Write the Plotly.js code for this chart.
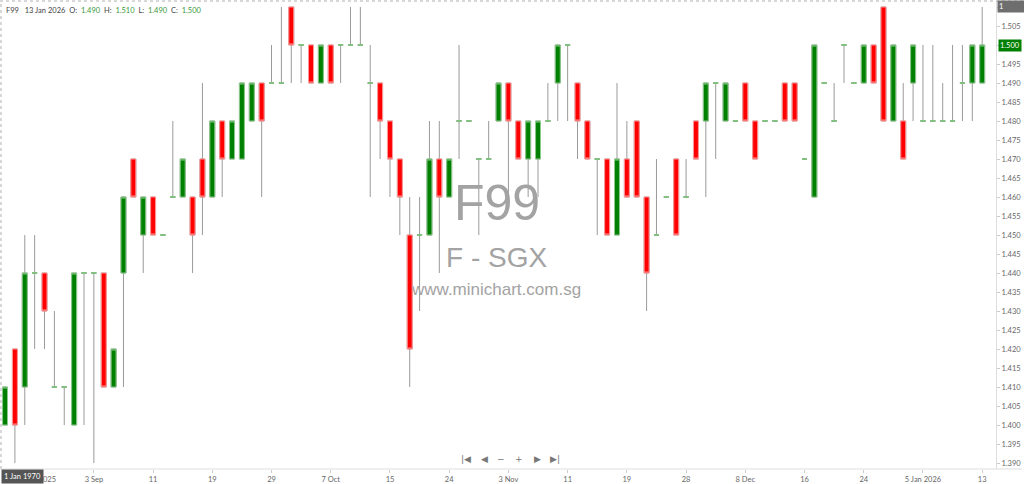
<!DOCTYPE html>
<html>
<head>
<meta charset="utf-8">
<script src="https://cdn.plot.ly/plotly-3.0.1.min.js"></script>
<style>
  html, body { margin: 0; padding: 0; background: #ffffff; }
  #chart { width: 1024px; height: 484px; }
</style>
</head>
<body>
<div id="chart"></div>
<script>
// ---- Data (F99, daily candles) ----
const dates = [
  '2025-08-21','2025-08-22','2025-08-25','2025-08-26','2025-08-27','2025-08-28','2025-08-29','2025-09-01','2025-09-02','2025-09-03',
  '2025-09-04','2025-09-05','2025-09-08','2025-09-09','2025-09-10','2025-09-11','2025-09-12','2025-09-15','2025-09-16','2025-09-17',
  '2025-09-18','2025-09-19','2025-09-22','2025-09-23','2025-09-24','2025-09-25','2025-09-26','2025-09-29','2025-09-30','2025-10-01',
  '2025-10-02','2025-10-03','2025-10-06','2025-10-07','2025-10-08','2025-10-09','2025-10-10','2025-10-13','2025-10-14','2025-10-15',
  '2025-10-16','2025-10-17','2025-10-21','2025-10-22','2025-10-23','2025-10-24','2025-10-27','2025-10-28','2025-10-29','2025-10-30',
  '2025-10-31','2025-11-03','2025-11-04','2025-11-05','2025-11-06','2025-11-07','2025-11-10','2025-11-11','2025-11-12','2025-11-13',
  '2025-11-14','2025-11-17','2025-11-18','2025-11-19','2025-11-20','2025-11-21','2025-11-24','2025-11-25','2025-11-26','2025-11-28',
  '2025-12-01','2025-12-02','2025-12-03','2025-12-04','2025-12-05','2025-12-08','2025-12-09','2025-12-10','2025-12-11','2025-12-12',
  '2025-12-15','2025-12-16','2025-12-17','2025-12-18','2025-12-19','2025-12-22','2025-12-23','2025-12-24','2025-12-26','2025-12-29',
  '2025-12-30','2025-12-31','2026-01-02','2026-01-05','2026-01-06','2026-01-07','2026-01-08','2026-01-09','2026-01-12','2026-01-13'
];
const open = [
  1.40,1.42,1.41,1.44,1.44,1.41,1.41,1.40,1.44,1.44,
  1.44,1.41,1.44,1.47,1.45,1.46,1.45,1.46,1.46,1.46,
  1.47,1.46,1.48,1.47,1.47,1.48,1.49,1.49,1.49,1.51,
  1.50,1.50,1.49,1.50,1.50,1.50,1.50,1.49,1.49,1.48,
  1.47,1.45,1.45,1.45,1.47,1.46,1.48,1.48,1.47,1.47,
  1.48,1.49,1.48,1.47,1.47,1.48,1.49,1.50,1.49,1.48,
  1.47,1.47,1.45,1.47,1.48,1.46,1.45,1.46,1.47,1.46,
  1.48,1.48,1.49,1.48,1.48,1.49,1.48,1.48,1.48,1.49,
  1.49,1.47,1.46,1.49,1.48,1.50,1.49,1.49,1.50,1.51,
  1.48,1.48,1.49,1.48,1.48,1.48,1.48,1.49,1.49,1.49
];
const high = [
  1.41,1.42,1.45,1.45,1.44,1.43,1.41,1.44,1.44,1.44,
  1.44,1.42,1.46,1.47,1.46,1.46,1.45,1.48,1.47,1.46,
  1.49,1.48,1.48,1.48,1.49,1.49,1.49,1.50,1.51,1.51,
  1.50,1.50,1.50,1.50,1.50,1.51,1.51,1.50,1.49,1.48,
  1.47,1.46,1.46,1.48,1.48,1.47,1.50,1.48,1.47,1.48,
  1.49,1.49,1.48,1.48,1.48,1.49,1.50,1.50,1.49,1.48,
  1.47,1.47,1.49,1.48,1.48,1.46,1.47,1.46,1.47,1.47,
  1.48,1.49,1.49,1.49,1.48,1.49,1.48,1.48,1.48,1.49,
  1.49,1.47,1.50,1.49,1.49,1.50,1.49,1.50,1.50,1.51,
  1.50,1.49,1.50,1.50,1.50,1.49,1.50,1.50,1.50,1.51
];
const low = [
  1.40,1.39,1.40,1.42,1.42,1.41,1.40,1.40,1.40,1.39,
  1.41,1.41,1.41,1.46,1.44,1.45,1.45,1.46,1.46,1.44,
  1.45,1.46,1.46,1.47,1.47,1.48,1.46,1.49,1.49,1.49,
  1.49,1.49,1.49,1.49,1.49,1.50,1.50,1.46,1.47,1.46,
  1.45,1.41,1.43,1.45,1.44,1.46,1.47,1.48,1.45,1.47,
  1.48,1.46,1.47,1.46,1.46,1.48,1.48,1.48,1.47,1.47,
  1.45,1.45,1.45,1.46,1.46,1.43,1.45,1.46,1.45,1.46,
  1.47,1.46,1.47,1.48,1.48,1.48,1.47,1.48,1.48,1.48,
  1.48,1.47,1.46,1.49,1.48,1.49,1.49,1.49,1.49,1.48,
  1.48,1.47,1.48,1.48,1.48,1.48,1.48,1.48,1.48,1.49
];
const close = [
  1.41,1.40,1.44,1.44,1.43,1.41,1.41,1.44,1.44,1.44,
  1.41,1.42,1.46,1.46,1.46,1.45,1.45,1.46,1.47,1.45,
  1.46,1.48,1.47,1.48,1.49,1.49,1.48,1.49,1.49,1.50,
  1.50,1.49,1.50,1.49,1.50,1.50,1.50,1.49,1.48,1.47,
  1.46,1.42,1.45,1.47,1.46,1.47,1.48,1.48,1.47,1.47,
  1.49,1.48,1.47,1.48,1.48,1.48,1.50,1.50,1.48,1.47,
  1.47,1.45,1.47,1.46,1.46,1.44,1.45,1.46,1.45,1.46,
  1.47,1.49,1.49,1.49,1.48,1.48,1.47,1.48,1.48,1.48,
  1.48,1.47,1.50,1.49,1.48,1.50,1.49,1.50,1.49,1.48,
  1.50,1.47,1.50,1.48,1.48,1.48,1.48,1.49,1.50,1.50
];
const tickDates = ['2025-08-26','2025-09-03','2025-09-11','2025-09-19','2025-09-29','2025-10-07','2025-10-15','2025-10-24',
  '2025-11-03','2025-11-11','2025-11-19','2025-11-28','2025-12-08','2025-12-16','2025-12-24','2026-01-05','2026-01-13'];
const tickLabels = ['26 Aug 2025','3 Sep','11','19','29','7 Oct','15','24','3 Nov','11','19','28','8 Dec','16','24','5 Jan 2026','13'];

const symbol = 'F99';
const lastDateLabel = '13 Jan 2026';

// ---- Derived body / doji series (from the data above) ----
const n = dates.length;
const isDoji = open.map((o, i) => o === close[i]);
const bodyO = open.map((o, i) => isDoji[i] ? null : o);
const bodyC = close.map((c, i) => isDoji[i] ? null : c);
const bodyH = open.map((o, i) => isDoji[i] ? null : Math.max(o, close[i]));
const bodyL = open.map((o, i) => isDoji[i] ? null : Math.min(o, close[i]));
const dojiV = open.map((o, i) => isDoji[i] ? o : null);

const GREEN = '#008000', RED = '#ff0000', WICK = '#9a9a9a';

const traces = [
  { // wicks
    type: 'candlestick', x: dates, open: open, high: high, low: low, close: close,
    increasing: { line: { color: WICK, width: 1 }, fillcolor: WICK },
    decreasing: { line: { color: WICK, width: 1 }, fillcolor: WICK },
    whiskerwidth: 0, hoverinfo: 'skip', showlegend: false
  },
  { // bodies
    type: 'candlestick', x: dates, open: bodyO, high: bodyH, low: bodyL, close: bodyC,
    increasing: { line: { color: '#8cc98c', width: 1 }, fillcolor: GREEN },
    decreasing: { line: { color: '#ff9a9a', width: 1 }, fillcolor: RED },
    whiskerwidth: 0, hoverinfo: 'skip', showlegend: false
  },
  { // doji dashes
    type: 'candlestick', x: dates, open: dojiV, high: dojiV, low: dojiV, close: dojiV,
    increasing: { line: { color: '#7cc47c', width: 1 }, fillcolor: '#7cc47c' },
    decreasing: { line: { color: '#7cc47c', width: 1 }, fillcolor: '#7cc47c' },
    whiskerwidth: 0, hoverinfo: 'skip', showlegend: false
  }
];

// pixel helpers for decorations (plot area: x 0..996, y 1..469)
const PW = 996, PT = 1, PB = 469;
const px = x => x / PW;
const py = y => (PB - y) / (PB - PT);

const lastO = open[n - 1].toFixed(3), lastH = high[n - 1].toFixed(3), lastL = low[n - 1].toFixed(3), lastC = close[n - 1].toFixed(3);
const vcol = '#3a9a3a';
const headerText = `${symbol}&nbsp;&nbsp;&nbsp;${lastDateLabel}&nbsp;&nbsp;O:&nbsp;&nbsp;<span style="color:${vcol}">${lastO}</span>&nbsp;&nbsp;H:&nbsp;&nbsp;<span style="color:${vcol}">${lastH}</span>&nbsp;&nbsp;L:&nbsp;&nbsp;<span style="color:${vcol}">${lastL}</span>&nbsp;&nbsp;C:&nbsp;&nbsp;<span style="color:${vcol}">${lastC}</span>`;

const navFont = { family: 'DejaVu Sans', size: 9, color: '#777' };
const annotations = [
  { text: symbol, x: px(497), y: py(203), xref: 'paper', yref: 'paper', xanchor: 'center', yanchor: 'middle',
    showarrow: false, font: { family: 'Liberation Sans, Arial', size: 50, color: '#a3a3a3' } },
  { text: 'F - SGX', x: px(496), y: py(257), xref: 'paper', yref: 'paper', xanchor: 'center', yanchor: 'middle',
    showarrow: false, font: { family: 'Liberation Sans, Arial', size: 28, color: '#a3a3a3' } },
  { text: 'www.minichart.com.sg', x: px(496), y: py(289), xref: 'paper', yref: 'paper', xanchor: 'center', yanchor: 'middle',
    showarrow: false, font: { family: 'Liberation Sans, Arial', size: 17, color: '#a3a3a3' } },
  { text: headerText, x: px(4), y: py(10), xref: 'paper', yref: 'paper', xanchor: 'left', yanchor: 'middle',
    showarrow: false, font: { family: 'Lato', size: 7.5, color: '#444' } },
  { text: '1', x: px(997), y: py(0), xref: 'paper', yref: 'paper', xanchor: 'left', yanchor: 'top',
    showarrow: false, bgcolor: '#6e6e6e', borderpad: 1, width: 25, align: 'left',
    font: { family: 'Lato', size: 7.5, color: '#ffffff' } },
  { text: (1.5).toFixed(3), x: px(998), y: py(45), xref: 'paper', yref: 'paper', xanchor: 'left', yanchor: 'middle',
    showarrow: false, bgcolor: '#008000', borderpad: 1,
    font: { family: 'Lato', size: 7.5, color: '#ffffff' } },
  { text: '1 Jan 1970', x: px(1), y: py(476), xref: 'paper', yref: 'paper', xanchor: 'left', yanchor: 'middle',
    showarrow: false, bgcolor: '#555555', borderpad: 2,
    font: { family: 'Lato', size: 7.5, color: '#ffffff' } },
  { text: '|◀', x: px(466), y: py(459), xref: 'paper', yref: 'paper', xanchor: 'center', yanchor: 'middle', showarrow: false, font: navFont },
  { text: '◀', x: px(484), y: py(459), xref: 'paper', yref: 'paper', xanchor: 'center', yanchor: 'middle', showarrow: false, font: navFont },
  { text: '−', x: px(501), y: py(459), xref: 'paper', yref: 'paper', xanchor: 'center', yanchor: 'middle', showarrow: false, font: navFont },
  { text: '+', x: px(519), y: py(459), xref: 'paper', yref: 'paper', xanchor: 'center', yanchor: 'middle', showarrow: false, font: navFont },
  { text: '▶', x: px(537), y: py(459), xref: 'paper', yref: 'paper', xanchor: 'center', yanchor: 'middle', showarrow: false, font: navFont },
  { text: '▶|', x: px(555), y: py(459), xref: 'paper', yref: 'paper', xanchor: 'center', yanchor: 'middle', showarrow: false, font: navFont }
];

const shapes = [
  { type: 'line', xref: 'paper', yref: 'paper', x0: 0, x1: px(1024), y0: py(1), y1: py(1),
    line: { color: '#b0b0b0', width: 1, dash: 'dot' } },
  { type: 'line', xref: 'paper', yref: 'paper', x0: px(1), x1: px(1), y0: 0, y1: py(1),
    line: { color: '#b0b0b0', width: 1, dash: 'dot' } },
  { type: 'line', xref: 'paper', yref: 'paper', x0: 0, x1: px(1022), y0: 0, y1: 0,
    line: { color: '#dddddd', width: 1 } }
];

const layout = {
  width: 1024, height: 484,
  margin: { l: 0, r: 28, t: PT, b: 484 - PB, pad: 0 },
  paper_bgcolor: '#ffffff', plot_bgcolor: '#ffffff',
  showlegend: false, dragmode: false, boxgap: 0.28,
  font: { family: 'Lato', size: 7.5, color: '#666' },
  xaxis: {
    type: 'category', range: [-0.51, 100.4], rangeslider: { visible: false },
    tickmode: 'array', tickvals: tickDates, ticktext: tickLabels,
    showgrid: false, zeroline: false, showline: false,
    ticks: 'outside', ticklen: 3, tickcolor: '#cccccc', tickangle: 0,
    tickfont: { family: 'Lato', size: 7.5, color: '#666' }, automargin: false
  },
  yaxis: {
    side: 'right', range: [1.388421, 1.511579], tick0: 1.39, dtick: 0.005, tickformat: '.3f',
    showgrid: false, zeroline: false, showline: true, linecolor: '#dddddd', mirror: false,
    ticks: 'outside', ticklen: 3, tickcolor: '#cccccc',
    tickfont: { family: 'Lato', size: 7.5, color: '#666' }, automargin: false
  },
  annotations: annotations,
  shapes: shapes
};

Plotly.newPlot('chart', traces, layout, { displayModeBar: false, staticPlot: true });
</script>
</body>
</html>
